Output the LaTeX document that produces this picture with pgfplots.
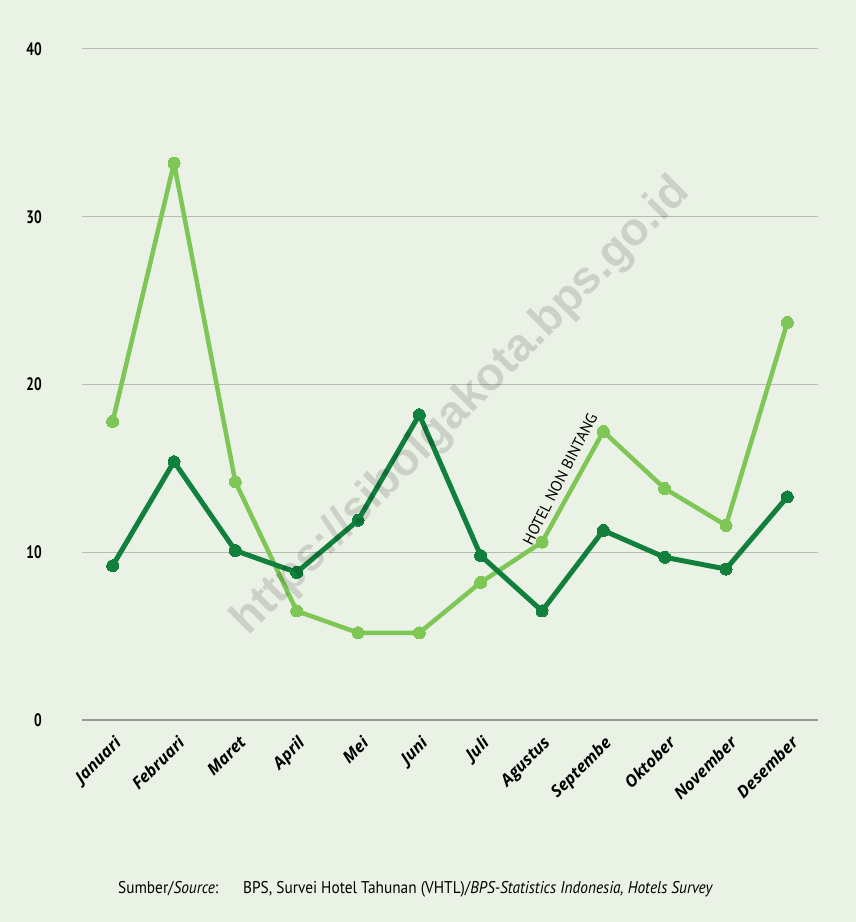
\documentclass[border=0pt]{standalone}
\usepackage{fontspec}
\setmainfont{PT Sans}
\newfontfamily\osans{Open Sans}
\newfontfamily\lsans{Liberation Sans}
\usepackage{graphicx}
\usepackage{pgfplots}
\pgfplotsset{compat=1.18}
\definecolor{bgcol}{RGB}{234,241,229}
\definecolor{lightg}{RGB}{126,198,86}
\definecolor{darkg}{RGB}{17,128,60}
\definecolor{gridc}{RGB}{182,186,178}
\definecolor{axc}{RGB}{150,156,146}
\newcommand{\rl}[1]{\rotatebox{45}{#1}}
\begin{document}
\begin{tikzpicture}[x=1pt,y=1pt]
\fill[bgcol] (0,0) rectangle (856,922);
\begin{axis}[
  at={(82pt,202pt)}, anchor=south west, scale only axis,
  width=736pt, height=671pt,
  xmin=-0.5, xmax=11.5, ymin=0, ymax=40, clip=false,
  axis line style={draw=none}, major tick length=0pt,
  ytick={0,10,20,30,40}, ymajorgrids, grid style={gridc, line width=1pt},
  xtick={0,...,11},
  xticklabels={\rl{Januari},\rl{Februari},\rl{Maret},\rl{April},\rl{Mei},\rl{Juni},\rl{Juli},\rl{Agustus},\rl{Septembe},\rl{Oktober},\rl{November},\rl{Desember}},
  /pgf/number format/assume math mode=true,
  yticklabel={\scalebox{0.75}[1]{\pgfmathprintnumber{\tick}}},
  yticklabel style={inner sep=0pt, anchor=east, xshift=-40pt, font=\bfseries\fontsize{18}{18}\selectfont},
  xticklabel style={anchor=north east, inner sep=0pt, xshift=12pt, yshift=-15pt, font=\osans\bfseries\itshape\fontsize{16.5}{16.5}\selectfont},
]
\draw[axc, line width=1.5pt] (axis cs:-0.5,0) -- (axis cs:11.5,0);
\addplot[lightg, line width=4.5pt, line join=round, mark=*, mark size=6pt, mark options={line width=0pt, fill=lightg}] coordinates {
 (0,17.8) (1,33.2) (2,14.2) (3,6.5) (4,5.2) (5,5.2) (6,8.2) (7,10.6) (8,17.2) (9,13.8) (10,11.6) (11,23.7)};
\addplot[darkg, line width=5pt, line join=round, mark=*, mark size=6pt, mark options={line width=0pt, fill=darkg}] coordinates {
 (0,9.2) (1,15.4) (2,10.1) (3,8.8) (4,11.9) (5,18.2) (6,9.8) (7,6.5) (8,11.3) (9,9.7) (10,9.0) (11,13.3)};
\end{axis}
\node[rotate=63, inner sep=0pt, font=\fontsize{15.5}{15.5}\selectfont] at (560,443) {HOTEL NON BINTANG};
\node[rotate=45, inner sep=0pt, opacity=0.13, font=\lsans\bfseries\fontsize{46}{46}\selectfont] at (462,515) {https://sibolgakota.bps.go.id};
\node[anchor=base west, inner sep=0pt, font=\fontsize{17}{17}\selectfont] at (118,28) {\resizebox{100pt}{\height}{Sumber/\textit{Source}:}};
\node[anchor=base west, inner sep=0pt, font=\fontsize{17}{17}\selectfont] at (243,28) {\resizebox{470pt}{\height}{BPS, Survei Hotel Tahunan (VHTL)/\textit{BPS-Statistics Indonesia, Hotels Survey}}};
\end{tikzpicture}
\end{document}
